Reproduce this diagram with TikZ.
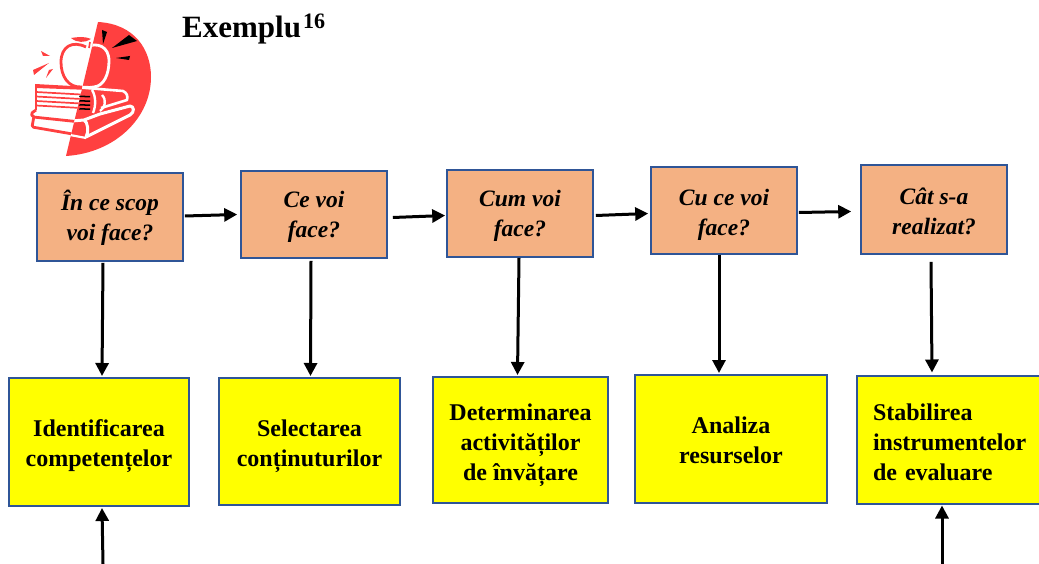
\documentclass[tikz,border=0pt]{standalone}
\usepackage{fontspec}
\setmainfont{Liberation Serif}
\usetikzlibrary{calc,arrows.meta}
\definecolor{boxedge}{HTML}{2F5597}
\definecolor{question}{HTML}{F4B183}
\definecolor{answer}{HTML}{FFFF00}
\definecolor{iconred}{HTML}{FF4040}
% Invisible first-line strut: sets how far a label sits below its box centre
\newcommand{\topgap}[1]{\rule{0pt}{#1pt}}
\tikzset{
  question/.style={draw=boxedge,line width=1.6pt,fill=question,align=center,inner sep=0pt,
    font=\fontsize{23.5}{30}\selectfont\bfseries\itshape},
  answer/.style={draw=boxedge,line width=2pt,fill=answer,align=center,inner sep=0pt,
    font=\fontsize{24}{30}\selectfont\bfseries},
  link/.style={black,line width=3pt,-{Triangle[length=13pt,width=13pt]}},
}
\begin{document}
\begin{tikzpicture}[x=1pt,y=-1pt]
\useasboundingbox (0,0) rectangle (1039,564);
% Icon: half disc with apple on a stack of books
\fill[iconred] (98,22) .. controls (135,24) and (151,50) .. (151,77) .. controls (151,118) and (115,153) .. (66,156) -- cycle;
% Left half of the icon: red strokes on white
\begin{scope}
  \clip (98,22) -- (66,156) -- (0,156) -- (0,22) -- cycle;
  \draw[iconred,line width=2.8pt] (86,47) .. controls (72,40) and (61,47) .. (61,62) .. controls (61,76) and (68,88) .. (82,87);
  \fill[iconred] (35,84) -- (90,87) -- (90,90) -- (36,88) -- cycle;
  \foreach \yy in {92,96.5,101,105.5}{\draw[iconred,line width=1.7pt] (36,\yy) -- (90,\yy+3);}
  \draw[iconred,line width=2.6pt] (36,85) -- (36,110);
  \draw[iconred,line width=2.8pt,line join=round,rounded corners=1.5pt] (36,110) -- (31,113.5) -- (33,117) -- (90,123);
  \draw[iconred,line width=2.8pt,line join=round,rounded corners=1.5pt] (34,116) -- (32,127) -- (90,137);
\end{scope}
% Right half of the icon: white strokes on red
\begin{scope}
  \clip (98,22) -- (66,156) -- (160,156) -- (160,22) -- cycle;
  \draw[white,line width=2.8pt] (86,47) .. controls (97,42) and (109,46) .. (109,61) .. controls (109,74) and (104,86) .. (94,87) .. controls (88,88) and (85,87) .. (78,87);
  \draw[white,line width=2.6pt,line join=round] (74,87) -- (123,91) .. controls (127,93) and (128,96) .. (127,100) -- (101,108);
  \draw[white,line width=2.4pt] (92,90) .. controls (96,96) and (96,106) .. (93,113);
  \draw[white,line width=2.4pt] (102,95) .. controls (107,100) and (105,108) .. (100,111);
  \draw[white,line width=3pt,line join=round] (72,121) -- (84,120) .. controls (88,122) and (89,132) .. (86,137) -- (130,115) .. controls (135,112) and (134,106) .. (130,106) -- (100,114) -- (84,120);
  \draw[white,line width=2.2pt] (70,135) -- (86,138);
\end{scope}
\foreach \yy in {95.5,100,104,108}{\fill[black] (80,\yy) -- (90,\yy+0.5) -- (90,\yy+2) -- (79,\yy+1.5) -- cycle;}
% Leaf and stem
\fill[iconred] (71,38) .. controls (78,37) and (84,36) .. (91,39) .. controls (85,43) and (77,43) .. (71,38) -- cycle;
\draw[iconred,line width=1.6pt] (90,42) -- (89,48);
% Radiating ticks around the apple
\fill[black] (102,30) -- (107,32) -- (103,44) -- cycle;
\fill[black] (129,35) -- (137,41) -- (112,48) -- cycle;
\fill[black] (130,56) -- (129,60) -- (116,58) -- cycle;
\fill[iconred] (41,51) -- (50,56) -- (43,56) -- cycle;
\fill[iconred] (33,70) -- (49,63) -- (34,75) -- cycle;
\fill[iconred] (53,69) -- (46,78) -- (49,70) -- cycle;
% Heading
\node[name=title,anchor=base west,inner sep=0pt,font=\fontsize{31}{31}\selectfont\bfseries] at (182,37.5) {Exemplu\kern2pt\raisebox{9pt}{\fontsize{22}{22}\selectfont 16}};
% Question row
\node[question,minimum width=146pt,minimum height=88pt] (q1) at (110,217) {\topgap{23}În ce scop\\voi face?};
\node[question,minimum width=146pt,minimum height=87pt] (q2) at (314,214.5) {\topgap{22}Ce voi\\face?};
\node[question,minimum width=146pt,minimum height=87pt] (q3) at (520,213.5) {\topgap{22}Cum voi\\face?};
\node[question,minimum width=146pt,minimum height=87pt] (q4) at (724,210.5) {\topgap{25}Cu ce voi\\face?};
\node[question,minimum width=146pt,minimum height=89pt] (q5) at (934,209.5) {\topgap{20}Cât s-a\\realizat?};
% Answer row
\node[answer,minimum width=180pt,minimum height=128pt] (a1) at (99,442) {\topgap{24.5}Identificarea\\competențelor};
\node[answer,minimum width=181pt,minimum height=127pt] (a2) at (309.5,441.5) {\topgap{26.5}Selectarea\\conținuturilor};
\node[answer,minimum width=175pt,minimum height=126pt] (a3) at (520.5,440) {\topgap{26.5}Determinarea\\activităților\\de învățare};
\node[answer,minimum width=192pt,minimum height=128pt] (a4) at (731,439) {\topgap{18.5}Analiza\\resurselor};
\node[answer,minimum width=190pt,minimum height=128pt,text width=158pt,align=left] (a5) at (952,439.5) {\topgap{22.5}Stabilirea\\instrumentelor\\de evaluare};
% Free ends of the two arrows entering from below
\coordinate (in1) at (103,564);
\coordinate (in5) at (942,564);
% Arrows along the question row
\draw[link] ($(q1.east)+(1,-1)$) -- ($(q2.west)+(-3,0)$);
\draw[link] ($(q2.east)+(5,3)$) -- ($(q3.west)+(-1,2)$);
\draw[link] ($(q3.east)+(2,2)$) -- ($(q4.west)+(-2,3)$);
\draw[link] ($(q4.east)+(1,2)$) -- ($(q5.west)+(-9,2)$);
% Arrows from questions to answers
\draw[link] ($(q1.south)+(-7,1)$) -- ($(a1.north)+(3,-1)$);
\draw[link] ($(q2.south)+(-3,2)$) -- ($(a2.north)+(1,-1)$);
\draw[link] ($(q3.south)+(-1,0)$) -- ($(a3.north)+(-3,-1)$);
\draw[link] ($(q4.south)+(-5,0)$) -- ($(a4.north)+(-12,-1)$);
\draw[link] ($(q5.south)+(-3,7)$) -- ($(a5.north)+(-20,-2)$);
% Arrows entering from below
\draw[link] (in1) -- ($(a1.south)+(3,1)$);
\draw[link] (in5) -- ($(a5.south)+(-10,1)$);
\end{tikzpicture}
\end{document}
